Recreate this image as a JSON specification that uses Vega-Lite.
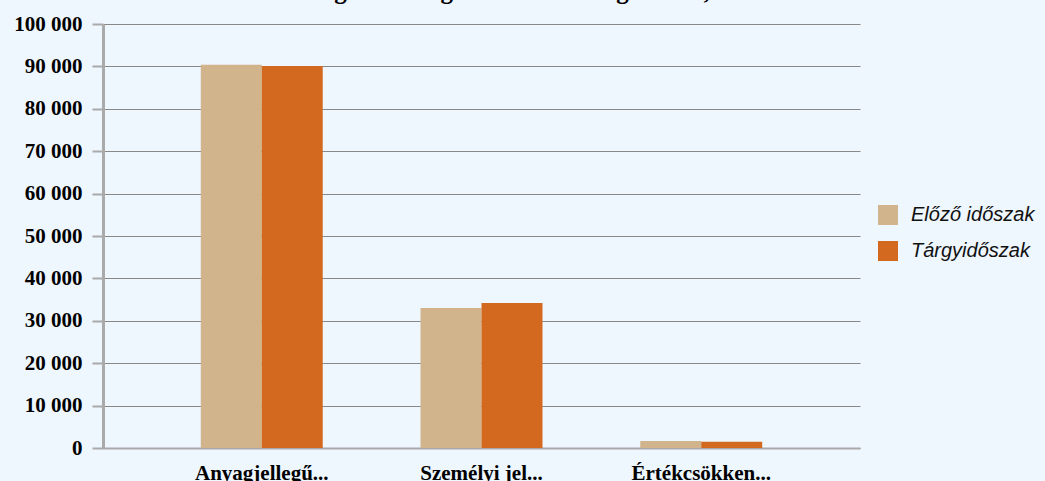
{
  "$schema": "https://vega.github.io/schema/vega-lite/v6.json",
  "autosize": {"type": "none"},
  "padding": {"left": 103, "top": 24, "right": 185, "bottom": 33},
  "width": 757,
  "height": 424,
  "background": "#EEF6FE",
  "title": {
    "text": "Költségek költségnemenkénti megoszlása, ezer Ft-ban",
    "font": "Liberation Serif",
    "fontSize": 25,
    "fontWeight": "bold",
    "color": "#000000",
    "anchor": "middle",
    "dx": 71,
    "offset": 9
  },
  "data": {
    "values": [
      {"kategoria": "Anyagjellegű...", "idoszak": "Előző időszak", "ertek": 90400},
      {"kategoria": "Anyagjellegű...", "idoszak": "Tárgyidőszak", "ertek": 90100},
      {"kategoria": "Személyi jel...", "idoszak": "Előző időszak", "ertek": 33000},
      {"kategoria": "Személyi jel...", "idoszak": "Tárgyidőszak", "ertek": 34200},
      {"kategoria": "Értékcsökken...", "idoszak": "Előző időszak", "ertek": 1650},
      {"kategoria": "Értékcsökken...", "idoszak": "Tárgyidőszak", "ertek": 1500}
    ]
  },
  "mark": {"type": "bar"},
  "encoding": {
    "x": {
      "field": "kategoria",
      "type": "nominal",
      "sort": null,
      "scale": {"paddingInner": 0.445, "paddingOuter": 0.445},
      "axis": {
        "title": null,
        "labelAngle": 0,
        "labelFont": "Liberation Serif",
        "labelFontSize": 21,
        "labelFontWeight": "bold",
        "labelColor": "#000000",
        "labelPadding": 14,
        "ticks": false,
        "domainColor": "#AAAAAA",
        "domainWidth": 2,
        "labelLimit": 300
      }
    },
    "xOffset": {"field": "idoszak", "type": "nominal", "scale": {"paddingInner": 0, "paddingOuter": 0}},
    "y": {
      "field": "ertek",
      "type": "quantitative",
      "scale": {"domain": [0, 100000], "nice": false},
      "axis": {
        "title": null,
        "values": [0, 10000, 20000, 30000, 40000, 50000, 60000, 70000, 80000, 90000, 100000],
        "labelExpr": "replace(format(datum.value, ','), regexp(',', 'g'), ' ')",
        "labelFont": "Liberation Serif",
        "labelFontSize": 21,
        "labelFontWeight": "bold",
        "labelColor": "#000000",
        "labelPadding": 10,
        "tickSize": 11,
        "tickColor": "#AAAAAA",
        "tickWidth": 2,
        "domainColor": "#AAAAAA",
        "domainWidth": 3,
        "grid": true,
        "gridColor": "#888888",
        "gridWidth": 1
      }
    },
    "color": {
      "field": "idoszak",
      "type": "nominal",
      "scale": {"domain": ["Előző időszak", "Tárgyidőszak"], "range": ["#D2B48C", "#D2691E"]},
      "legend": {
        "title": null,
        "orient": "none",
        "legendX": 775,
        "legendY": 181,
        "symbolType": "square",
        "symbolSize": 400,
        "symbolStrokeWidth": 0,
        "labelFont": "Liberation Sans",
        "labelFontSize": 20,
        "labelFontStyle": "italic",
        "labelColor": "#111111",
        "rowPadding": 16,
        "labelOffset": 13
      }
    }
  },
  "config": {
    "view": {"stroke": null},
    "axisX": {"zindex": 1}
  }
}
